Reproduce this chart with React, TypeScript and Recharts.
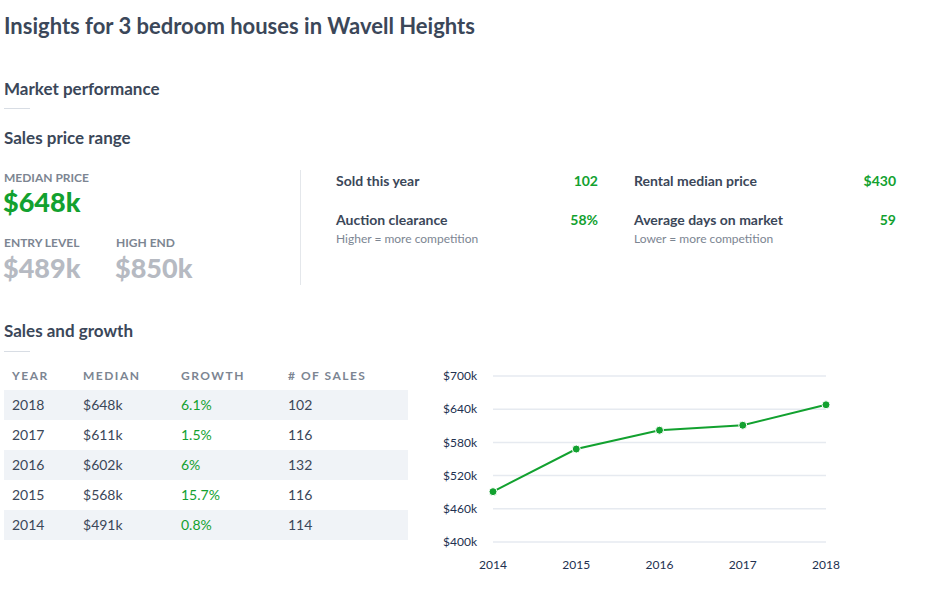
import React from 'react';
import { LineChart, Line, XAxis, YAxis, CartesianGrid } from 'recharts';

const years = ['2018', '2017', '2016', '2015', '2014'];
const medians = [648, 611, 602, 568, 491];
const growth = ['6.1%', '1.5%', '6%', '15.7%', '0.8%'];
const salesCount = [102, 116, 132, 116, 114];
const yTicks = [400, 460, 520, 580, 640, 700];

const priceLabels = ['MEDIAN PRICE', 'ENTRY LEVEL', 'HIGH END'];
const priceValues = ['$648k', '$489k', '$850k'];

const statLabels = ['Sold this year', 'Rental median price', 'Auction clearance', 'Average days on market'];
const statValues = ['102', '$430', '58%', '59'];
const statNotes = ['', '', 'Higher = more competition', 'Lower = more competition'];

const FONT = 'Lato, "Noto Sans", sans-serif';
const DARK = '#3b4759';
const GREEN = '#12a12f';
const GREY = '#7c8592';

// chart wants oldest year first
const chartData = years
  .map((y, i) => ({ year: y, median: medians[i] }))
  .reverse();

const Txt: React.FC<{
  x: number;
  y: number;
  size: number;
  weight?: number;
  color?: string;
  align?: 'left' | 'right';
  spacing?: number;
  children: React.ReactNode;
}> = ({ x, y, size, weight = 400, color = DARK, align = 'left', spacing = 0, children }) => (
  <div
    style={{
      position: 'absolute',
      top: y - size * 0.7,
      height: size * 1.4,
      lineHeight: `${size * 1.4}px`,
      fontSize: size,
      fontWeight: weight,
      color,
      letterSpacing: spacing,
      whiteSpace: 'nowrap',
      ...(align === 'left' ? { left: x } : { right: 939 - x }),
    }}
  >
    {children}
  </div>
);

const Rule: React.FC<{ y: number }> = ({ y }) => (
  <div style={{ position: 'absolute', left: 4, top: y, width: 26, height: 1, background: '#d8dde4' }} />
);

export default function App() {
  const colX = [12, 83, 181, 288];
  const headers = ['YEAR', 'MEDIAN', 'GROWTH', '# OF SALES'];

  return (
    <div
      style={{
        position: 'absolute',
        left: 0,
        top: 0,
        width: 939,
        height: 602,
        background: '#fff',
        fontFamily: FONT,
        overflow: 'hidden',
      }}
    >
      <Txt x={4} y={26} size={22} weight={700}>Insights for 3 bedroom houses in Wavell Heights</Txt>

      <Txt x={4} y={89} size={17} weight={700}>Market performance</Txt>
      <Rule y={108} />
      <Txt x={4} y={138} size={17} weight={700}>Sales price range</Txt>

      <Txt x={4} y={178} size={12} weight={700} color={GREY}>{priceLabels[0]}</Txt>
      <Txt x={3} y={202} size={27} weight={900} color={GREEN}>{priceValues[0]}</Txt>
      <Txt x={4} y={243} size={12} weight={700} color={GREY}>{priceLabels[1]}</Txt>
      <Txt x={116} y={243} size={12} weight={700} color={GREY}>{priceLabels[2]}</Txt>
      <Txt x={3} y={268} size={27} weight={900} color="#b6bac2">{priceValues[1]}</Txt>
      <Txt x={115} y={268} size={27} weight={900} color="#b6bac2">{priceValues[2]}</Txt>

      <div style={{ position: 'absolute', left: 300, top: 170, width: 1, height: 115, background: '#e4e7eb' }} />

      {statLabels.map((label, i) => {
        const col = i % 2;
        const row = Math.floor(i / 2);
        const x = col === 0 ? 336 : 634;
        const right = col === 0 ? 598 : 896;
        const y = row === 0 ? 181 : 220;
        return (
          <React.Fragment key={label}>
            <Txt x={x} y={y} size={14} weight={700}>{label}</Txt>
            <Txt x={right} y={y} size={14} weight={700} color={GREEN} align="right">{statValues[i]}</Txt>
            {statNotes[i] && (
              <Txt x={x} y={y + 19} size={12} color={GREY}>{statNotes[i]}</Txt>
            )}
          </React.Fragment>
        );
      })}

      <Txt x={4} y={331} size={17} weight={700}>Sales and growth</Txt>
      <Rule y={351} />

      {headers.map((h, i) => (
        <Txt key={h} x={colX[i]} y={376} size={12} weight={700} color={GREY} spacing={1.5}>{h}</Txt>
      ))}
      {years.map((yr, r) => {
        const top = 390 + r * 30;
        return (
          <React.Fragment key={yr}>
            <div
              style={{
                position: 'absolute',
                left: 4,
                top,
                width: 404,
                height: 30,
                background: r % 2 === 0 ? '#f0f3f7' : '#fff',
              }}
            />
            <Txt x={colX[0]} y={top + 15} size={14}>{yr}</Txt>
            <Txt x={colX[1]} y={top + 15} size={14}>${medians[r]}k</Txt>
            <Txt x={colX[2]} y={top + 15} size={14} color={GREEN}>{growth[r]}</Txt>
            <Txt x={colX[3]} y={top + 15} size={14}>{salesCount[r]}</Txt>
          </React.Fragment>
        );
      })}

      <div style={{ position: 'absolute', left: 430, top: 360 }}>
        <LineChart width={420} height={220} data={chartData} margin={{ top: 16, right: 24, left: 0, bottom: 8 }}>
          <CartesianGrid vertical={false} stroke="#e6eaf0" strokeWidth={1.5} />
          <XAxis
            dataKey="year"
            axisLine={false}
            tickLine={false}
            tickMargin={12}
            height={30}
            tick={{ fontSize: 12, fill: '#22304f', fontFamily: FONT }}
          />
          <YAxis
            type="number"
            domain={[400, 700]}
            ticks={yTicks}
            axisLine={false}
            tickLine={false}
            tickMargin={10}
            width={63}
            tickFormatter={(v: number) => `$${v}k`}
            tick={{ fontSize: 12, fill: '#22304f', fontFamily: FONT }}
          />
          <Line
            type="linear"
            dataKey="median"
            stroke={GREEN}
            strokeWidth={2}
            dot={{ r: 4, fill: GREEN, stroke: '#fff', strokeWidth: 1 }}
            isAnimationActive={false}
          />
        </LineChart>
      </div>
    </div>
  );
}
